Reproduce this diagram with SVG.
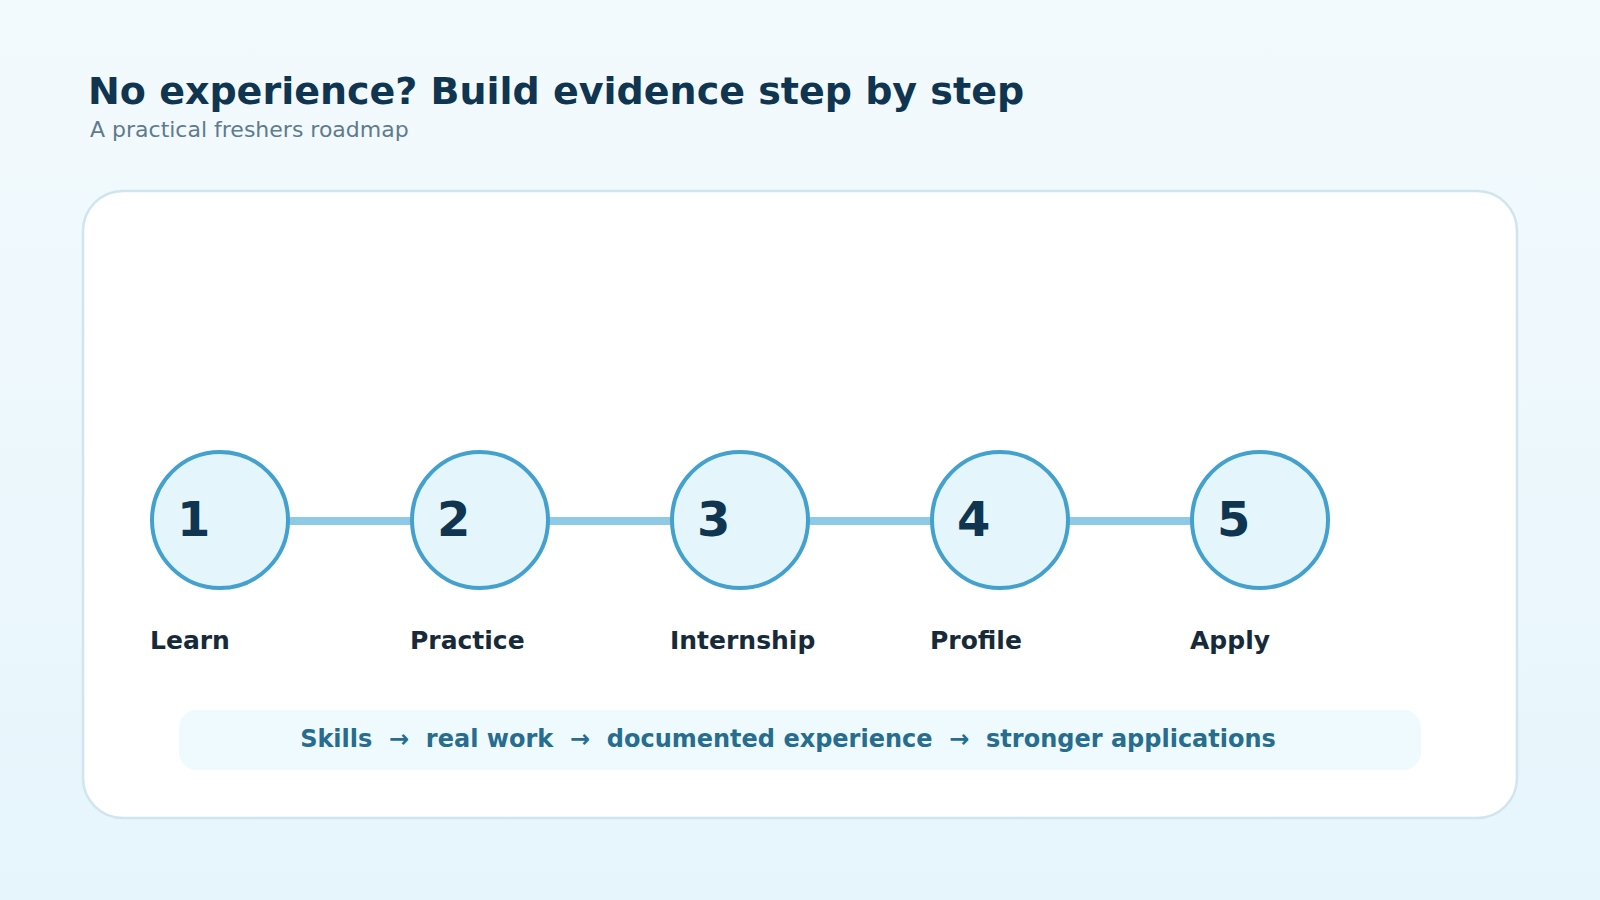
<svg xmlns="http://www.w3.org/2000/svg" width="1600" height="900" viewBox="0 0 1600 900">
  <defs>
    <linearGradient id="bg" x1="0" y1="0" x2="0" y2="1">
      <stop offset="0" stop-color="#f3fafd"/>
      <stop offset="1" stop-color="#e6f5fc"/>
    </linearGradient>
  </defs>
  <style>
    .title { font-family: "DejaVu Sans", sans-serif; font-weight: bold; font-size: 38px; fill: #0f3550; }
    .subtitle { font-family: "DejaVu Sans", sans-serif; font-size: 22px; fill: #5f7b8e; }
    .step circle { fill: #e4f6fc; stroke: #44a1cd; stroke-width: 4; }
    .num { font-family: "DejaVu Sans", sans-serif; font-weight: bold; font-size: 48px; fill: #0f3550; }
    .label { font-family: "DejaVu Sans", sans-serif; font-weight: bold; font-size: 25px; fill: #172a3a; }
    .conn line { stroke: #8ecae6; stroke-width: 8; }
    .banner-text { font-family: "DejaVu Sans", sans-serif; font-weight: bold; font-size: 24px; fill: #266d8f; white-space: pre; }
  </style>
  <rect x="0" y="0" width="1600" height="900" fill="url(#bg)"/>
  <text class="title" x="88" y="104">No experience? Build evidence step by step</text>
  <text class="subtitle" x="90" y="137">A practical freshers roadmap</text>
  <rect id="card" x="83" y="191" width="1434" height="627" rx="40" fill="#ffffff" stroke="#cfe6ef" stroke-width="2.5"/>
  <g id="connectors" class="conn">
    <line x1="288" y1="521" x2="412" y2="521"/>
    <line x1="548" y1="521" x2="672" y2="521"/>
    <line x1="808" y1="521" x2="932" y2="521"/>
    <line x1="1068" y1="521" x2="1192" y2="521"/>
  </g>
  <g id="step1" class="step">
    <circle cx="220" cy="520" r="68"/>
    <text class="num" x="177" y="536">1</text>
    <text class="label" x="150" y="649">Learn</text>
  </g>
  <g id="step2" class="step">
    <circle cx="480" cy="520" r="68"/>
    <text class="num" x="437" y="536">2</text>
    <text class="label" x="410" y="649">Practice</text>
  </g>
  <g id="step3" class="step">
    <circle cx="740" cy="520" r="68"/>
    <text class="num" x="697" y="536">3</text>
    <text class="label" x="670" y="649">Internship</text>
  </g>
  <g id="step4" class="step">
    <circle cx="1000" cy="520" r="68"/>
    <text class="num" x="957" y="536">4</text>
    <text class="label" x="930" y="649">Profile</text>
  </g>
  <g id="step5" class="step">
    <circle cx="1260" cy="520" r="68"/>
    <text class="num" x="1217" y="536">5</text>
    <text class="label" x="1190" y="649">Apply</text>
  </g>
  <g id="summary">
    <rect x="179" y="710" width="1242" height="60" rx="18" fill="#eefafd"/>
    <text class="banner-text" x="788" y="747" text-anchor="middle" xml:space="preserve">Skills  →  real work  →  documented experience  →  stronger applications</text>
  </g>
</svg>
